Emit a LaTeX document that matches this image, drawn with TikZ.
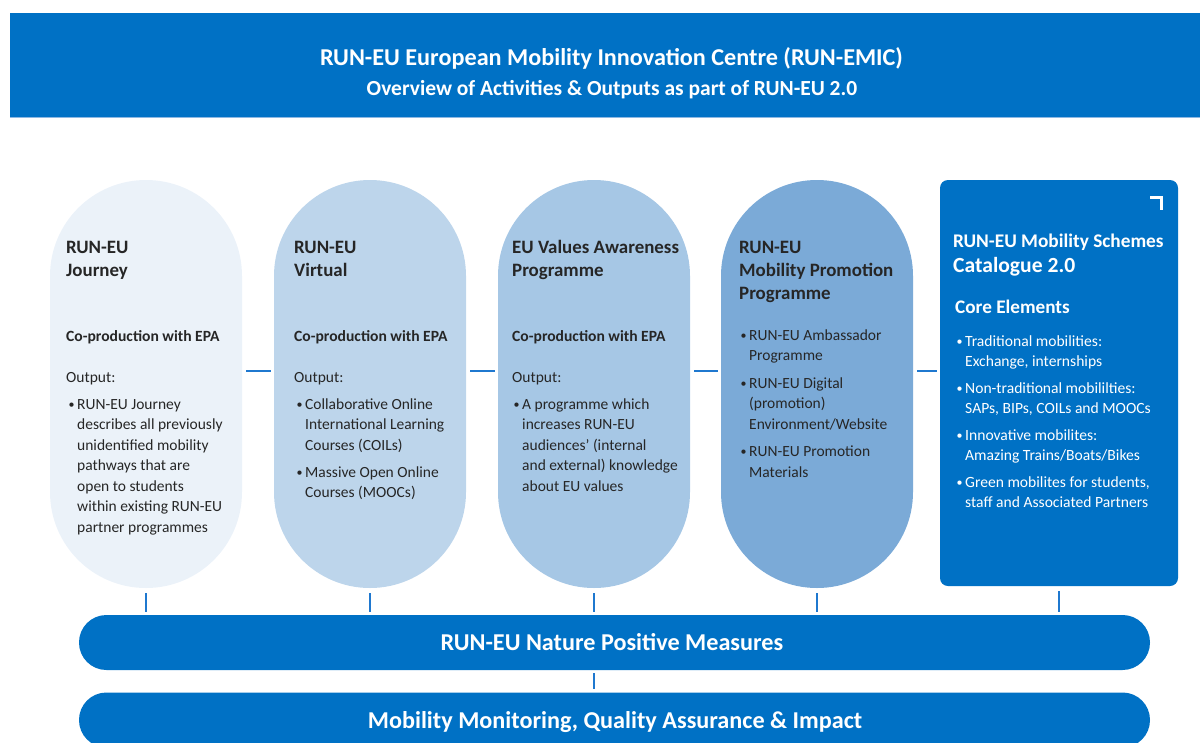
\documentclass[tikz,border=0pt]{standalone}
\usepackage{fontspec}
\setmainfont{Carlito}
\usetikzlibrary{calc}
\definecolor{mainblue}{HTML}{0071C5}
\definecolor{lineblue}{HTML}{1F78CF}
\definecolor{pillA}{HTML}{EBF2F9}
\definecolor{pillB}{HTML}{BDD5EB}
\definecolor{pillC}{HTML}{A6C7E5}
\definecolor{pillD}{HTML}{7BAAD7}
\definecolor{txt}{HTML}{262626}
\definecolor{hdrline}{HTML}{8DB8E3}
\newcommand{\blist}[1]{\begin{tabular}[t]{@{}l@{}l@{}}#1\end{tabular}}
\newcommand{\bul}{\makebox[8pt][l]{\hspace{-0.5pt}\raisebox{0.8pt}{\fontsize{12}{12}\selectfont •}}}
\tikzset{
  pill/.style={draw=none, rounded corners=95.9pt, minimum width=192pt, minimum height=408pt, inner sep=0pt},
  catbox/.style={fill=mainblue, draw=none, rounded corners=8pt, minimum width=238pt, minimum height=406pt, inner sep=0pt},
  bar/.style={fill=mainblue, draw=none, rounded corners=27.4pt, minimum width=1071pt, minimum height=55pt, inner sep=0pt},
  heading/.style={anchor=base west, inner sep=0pt, align=flush left, text width=215pt, font=\fontsize{18.9}{23}\selectfont\bfseries, text=txt},
  subhead/.style={anchor=base west, inner sep=0pt, font=\fontsize{15.6}{20.5}\selectfont\bfseries, text=txt},
  body/.style={anchor=base west, inner sep=0pt, font=\fontsize{15.5}{20.5}\selectfont, text=txt},
  wbody/.style={anchor=base west, inner sep=0pt, font=\fontsize{15.6}{20}\selectfont, text=white},
  bartext/.style={text=white, font=\fontsize{24.2}{28}\selectfont\bfseries, inner sep=0pt, anchor=base},
  conn/.style={draw=lineblue, line width=2pt},
}
\begin{document}
\begin{tikzpicture}[x=1pt,y=-1pt]
\useasboundingbox (0,0) rectangle (1200,742);
% header
\node[fill=mainblue, draw=none, minimum width=1195pt, minimum height=104pt, inner sep=0pt, anchor=north west] (hdr) at (10,13) {};
\draw[hdrline, line width=1.2pt] (hdr.south west) -- (hdr.south east);
\node[text=white, font=\fontsize{24.2}{28}\selectfont\bfseries, anchor=base, inner sep=0pt] (t1) at (611.5,65) {RUN-EU European Mobility Innovation Centre (RUN-EMIC)};
\node[text=white, font=\fontsize{21.5}{25}\selectfont\bfseries, anchor=base, inner sep=0pt] (t2) at (612,95) {Overview of Activities \& Outputs as part of RUN-EU 2.0};

% pills
\node[pill, fill=pillA] (p1) at (146,384) {};
\node[pill, fill=pillB] (p2) at (370,384) {};
\node[pill, fill=pillC] (p3) at (594,384) {};
\node[pill, fill=pillD] (p4) at (817,384) {};
\node[catbox] (p5) at (1059,383) {};

% bars
\node[bar] (bar1) at (614.5,642.5) {};
\node[bar] (bar2) at (614.5,720) {};
\node[bartext] (bt1) at (612,650) {RUN-EU Nature Positive Measures};
\node[bartext] (bt2) at (615,728) {Mobility Monitoring, Quality Assurance \& Impact};

% connectors
\foreach \a/\b in {p1/p2,p2/p3,p3/p4,p4/p5}
  \draw[conn, shorten <=4pt, shorten >=3pt] ([yshift=13pt]\a.east) -- ([yshift=13pt]\a.east -| \b.west);
\foreach \a in {p1,p2,p3,p4,p5}
  \draw[conn, shorten <=5pt, shorten >=3pt] (\a.south) -- (\a.south |- bar1.north);
\draw[conn, shorten <=3pt, shorten >=3pt] (p3.south |- bar1.south) -- (p3.south |- bar2.north);

% pill 1
\node[heading] (h1) at (66,253) {RUN-EU\\Journey};
\node[subhead] (c1) at (66,341) {Co-production with EPA};
\node[body] (o1) at (66,382) {Output:};
\node[body] (b1) at (69,409) {\blist{\bul&RUN-EU Journey\\&describes all previously\\&unidentified mobility\\&pathways that are\\&open to students\\&within existing RUN-EU\\&partner programmes}};

% pill 2
\node[heading] (h2) at (294,253) {RUN-EU\\Virtual};
\node[subhead] (c2) at (294,341) {Co-production with EPA};
\node[body] (o2) at (294,382) {Output:};
\node[body] (b2) at (297,409) {\blist{\bul&Collaborative Online\\&International Learning\\&Courses (COILs)\\[6.5pt]\bul&Massive Open Online\\&Courses (MOOCs)}};

% pill 3
\node[heading] (h3) at (512,253) {EU Values Awareness\\Programme};
\node[subhead] (c3) at (512,341) {Co-production with EPA};
\node[body] (o3) at (512,382) {Output:};
\node[body] (b3) at (514,409) {\blist{\bul&A programme which\\&increases RUN-EU\\&audiences’ (internal\\&and external) knowledge\\&about EU values}};

% pill 4
\node[heading] (h4) at (739,253) {RUN-EU\\Mobility Promotion\\Programme};
\node[body] (b4) at (741,340) {\blist{\bul&RUN-EU Ambassador\\&Programme\\[7pt]\bul&RUN-EU Digital\\&(promotion)\\&Environment/Website\\[7pt]\bul&RUN-EU Promotion\\&Materials}};

% catalogue box
\draw[white, line width=3pt] ([xshift=-28pt,yshift=-18pt]p5.north east) -- ([xshift=-16.5pt,yshift=-18pt]p5.north east) -- ([xshift=-16.5pt,yshift=-30pt]p5.north east);
\node[anchor=base west, inner sep=0pt, text=white, font=\fontsize{19.3}{23}\selectfont\bfseries] (h5a) at (953,247) {RUN-EU Mobility Schemes};
\node[anchor=base west, inner sep=0pt, text=white, font=\fontsize{21.6}{25}\selectfont\bfseries] (h5b) at (953,272) {Catalogue 2.0};
\node[anchor=base west, inner sep=0pt, text=white, font=\fontsize{19.2}{23}\selectfont\bfseries] (h5c) at (955,313) {Core Elements};
\node[wbody] (b5) at (957,346) {\blist{\bul&Traditional mobilities:\\&Exchange, internships\\[7pt]\bul&Non-traditional mobililties:\\&SAPs, BIPs, COILs and MOOCs\\[7pt]\bul&Innovative mobilites:\\&Amazing Trains/Boats/Bikes\\[7pt]\bul&Green mobilites for students,\\&staff and Associated Partners}};
\end{tikzpicture}
\end{document}
